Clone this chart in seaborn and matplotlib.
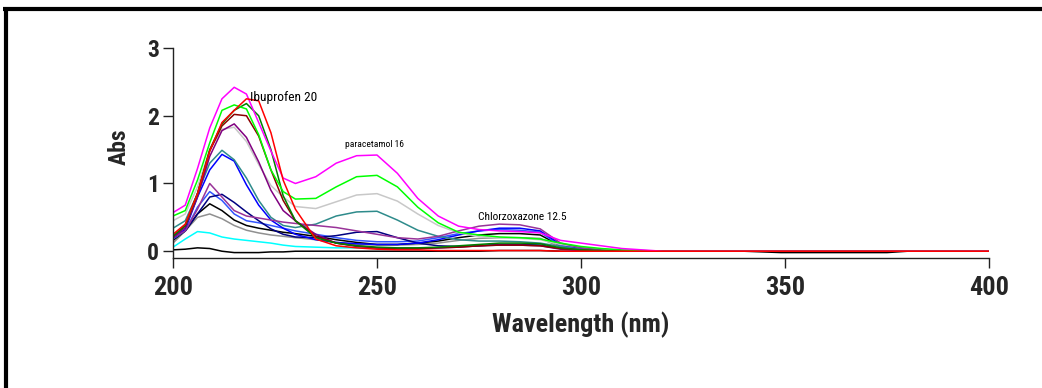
import numpy as np
import pandas as pd
import matplotlib
matplotlib.use("Agg")
import matplotlib.pyplot as plt
import seaborn as sns
from matplotlib import font_manager
from matplotlib.lines import Line2D

# ---------------- data ----------------
wavelength = [200, 203, 206, 209, 212, 215, 218, 221, 224, 227, 230, 235, 240, 245, 250,
              255, 260, 265, 270, 275, 280, 285, 290, 295, 300, 305, 310,
              320, 340, 349, 375, 380, 400]

tail = [0, 0, 0, 0, 0, 0]

bottom_black = [0.02, 0.03, 0.05, 0.04, 0.00, -0.02, -0.02, -0.02, -0.01, -0.01, 0, 0, 0, 0, 0,
                0, 0, 0, 0, 0, 0.01, 0.01, 0.01, 0, 0, 0, 0, 0, 0, -0.02, -0.02, 0, 0]
cyan = [0.06, 0.18, 0.29, 0.27, 0.21, 0.18, 0.16, 0.14, 0.12, 0.09, 0.07, 0.06, 0.05, 0.05, 0.04,
        0.04, 0.04, 0.05, 0.07, 0.09, 0.10, 0.10, 0.09, 0.04, 0.01, 0, 0] + tail
gray = [0.12, 0.30, 0.50, 0.55, 0.48, 0.38, 0.31, 0.27, 0.24, 0.22, 0.20, 0.17, 0.13, 0.10, 0.09,
        0.09, 0.10, 0.12, 0.16, 0.19, 0.20, 0.20, 0.19, 0.06, 0.02, 0, 0] + tail
black = [0.16, 0.30, 0.55, 0.70, 0.60, 0.46, 0.38, 0.34, 0.31, 0.28, 0.26, 0.22, 0.17, 0.13, 0.10,
         0.10, 0.12, 0.15, 0.20, 0.24, 0.26, 0.26, 0.24, 0.08, 0.02, 0, 0] + tail
royal = [0.18, 0.30, 0.65, 0.88, 0.75, 0.55, 0.45, 0.42, 0.38, 0.34, 0.30, 0.25, 0.20, 0.16, 0.14,
         0.14, 0.15, 0.20, 0.26, 0.30, 0.32, 0.31, 0.28, 0.08, 0.02, 0, 0] + tail
navy = [0.20, 0.30, 0.55, 0.80, 0.84, 0.72, 0.58, 0.45, 0.33, 0.25, 0.21, 0.20, 0.23, 0.28, 0.29,
        0.20, 0.12, 0.08, 0.07, 0.08, 0.10, 0.10, 0.09, 0.04, 0.01, 0, 0] + tail
blue = [0.20, 0.32, 0.80, 1.20, 1.43, 1.33, 0.98, 0.68, 0.46, 0.34, 0.25, 0.17, 0.13, 0.11, 0.10,
        0.10, 0.12, 0.17, 0.24, 0.30, 0.34, 0.34, 0.30, 0.10, 0.04, 0.01, 0] + tail
teal = [0.34, 0.45, 0.85, 1.30, 1.49, 1.35, 1.08, 0.75, 0.50, 0.38, 0.35, 0.40, 0.52, 0.58, 0.59,
        0.46, 0.31, 0.22, 0.17, 0.15, 0.15, 0.14, 0.12, 0.07, 0.03, 0.01, 0] + tail
light_gray = [0.45, 0.55, 0.95, 1.50, 1.80, 1.83, 1.62, 1.28, 0.97, 0.80, 0.66, 0.63, 0.73, 0.83, 0.85,
              0.74, 0.55, 0.38, 0.27, 0.22, 0.20, 0.19, 0.17, 0.10, 0.06, 0.03, 0.01] + tail
purple_small = [0.20, 0.30, 0.62, 1.00, 0.80, 0.60, 0.52, 0.49, 0.46, 0.43, 0.41, 0.38, 0.35, 0.30, 0.25,
                0.20, 0.18, 0.22, 0.30, 0.37, 0.40, 0.39, 0.33, 0.12, 0.05, 0.02, 0] + tail
purple_big = [0.20, 0.35, 0.80, 1.40, 1.78, 1.88, 1.68, 1.32, 0.90, 0.60, 0.45, 0.25, 0.12, 0.07, 0.05,
              0.04, 0.04, 0.05, 0.06, 0.08, 0.09, 0.09, 0.08, 0.03, 0.01, 0, 0] + tail
brown = [0.22, 0.38, 0.85, 1.48, 1.85, 2.02, 2.00, 1.70, 1.20, 0.75, 0.45, 0.22, 0.12, 0.08, 0.05,
         0.04, 0.04, 0.05, 0.06, 0.08, 0.09, 0.09, 0.08, 0.04, 0.02, 0, 0] + tail
dark_green = [0.22, 0.38, 0.85, 1.50, 1.88, 2.08, 2.18, 2.00, 1.50, 0.82, 0.45, 0.20, 0.12, 0.08, 0.06,
              0.05, 0.05, 0.06, 0.08, 0.10, 0.12, 0.12, 0.11, 0.05, 0.02, 0.01, 0] + tail
green = [0.52, 0.60, 1.05, 1.60, 2.08, 2.16, 2.10, 1.72, 1.20, 0.88, 0.77, 0.78, 0.95, 1.10, 1.12,
         0.95, 0.65, 0.42, 0.28, 0.24, 0.21, 0.20, 0.18, 0.12, 0.07, 0.04, 0.02] + tail
magenta = [0.57, 0.68, 1.22, 1.82, 2.25, 2.42, 2.32, 1.90, 1.48, 1.08, 1.00, 1.10, 1.30, 1.41, 1.42,
           1.15, 0.78, 0.52, 0.37, 0.32, 0.30, 0.29, 0.27, 0.16, 0.12, 0.08, 0.04] + tail
red = [0.25, 0.40, 0.85, 1.48, 1.90, 2.08, 2.25, 2.22, 1.75, 1.05, 0.62, 0.18, 0.08, 0.05, 0.03,
       0.02, 0.02, 0.01, 0.01, 0.01, 0.01, 0.01, 0.01, 0, 0, 0, 0] + tail

series = {
    "bottom_black": (bottom_black, "#000000"),
    "cyan": (cyan, "#00FFFF"),
    "gray": (gray, "#909090"),
    "black": (black, "#000000"),
    "royal": (royal, "#3355FF"),
    "navy": (navy, "#000080"),
    "blue": (blue, "#0000FF"),
    "teal": (teal, "#2E8B8B"),
    "light_gray": (light_gray, "#C8C8C8"),
    "purple_small": (purple_small, "#993399"),
    "purple_big": (purple_big, "#800080"),
    "brown": (brown, "#8B0000"),
    "dark_green": (dark_green, "#008000"),
    "green": (green, "#00FF00"),
    "magenta": (magenta, "#FF00FF"),
    "red": (red, "#FF0000"),
}

x_ticks = [200, 250, 300, 350, 400]
y_ticks = [0, 1, 2, 3]
annotations = [("Ibuprofen 20", 218.9, 2.27, 9.6),
               ("paracetamol 16", 242.2, 1.58, 6.8),
               ("Chlorzoxazone 12.5", 274.8, 0.51, 8.2)]

# ---------------- style ----------------
sns.set_style("white")
names = {f.name for f in font_manager.fontManager.ttflist}
main_font = "Roboto Condensed" if "Roboto Condensed" in names else "Liberation Sans"
plt.rcParams["font.family"] = [main_font, "DejaVu Sans"]

rows = []
for name, (vals, col) in series.items():
    for w, v in zip(wavelength, vals):
        rows.append((name, w, v))
df = pd.DataFrame(rows, columns=["sample", "wl", "abs"])
palette = {k: c for k, (v, c) in series.items()}

fig = plt.figure(figsize=(10.42, 3.88), dpi=100)
ax = fig.add_axes([173 / 1042, 1 - 258 / 388, 816 / 1042, 210 / 388])

sns.lineplot(data=df, x="wl", y="abs", hue="sample", hue_order=list(series.keys()),
             palette=palette, sort=False, estimator=None, legend=False, linewidth=1.1, ax=ax)

ax.set_xlim(200, 400)
ax.set_ylim(-0.1, 3.0)
ax.set_xticks(x_ticks)
ax.set_yticks(y_ticks)
ax.set_xticklabels([str(t) for t in x_ticks], fontsize=19, fontweight="bold")
ax.set_yticklabels([str(t) for t in y_ticks], fontsize=17, fontweight="bold")
ax.tick_params(axis="both", direction="out", length=7, width=1, color="#222222",
               bottom=True, left=True)
ax.tick_params(axis="x", pad=6)
ax.tick_params(axis="y", pad=3)
for s in ["top", "right"]:
    ax.spines[s].set_visible(False)
for s in ["left", "bottom"]:
    ax.spines[s].set_color("#222222")
    ax.spines[s].set_linewidth(1.0)

ax.set_xlabel("Wavelength (nm)", fontsize=18.8, fontweight="bold")
ax.set_ylabel("Abs", fontsize=17, fontweight="bold")
ax.xaxis.set_label_coords(0.5, -0.255)
ax.yaxis.set_label_coords(-0.052, 0.53)

for txt, xv, yv, fs in annotations:
    ax.text(xv, yv, txt, fontsize=fs, ha="left", va="center", color="black")

# figure frame (thick top and left border)
fig.add_artist(Line2D([3 / 1042, 1], [1 - 8.7 / 388, 1 - 8.7 / 388], transform=fig.transFigure,
                      color="black", linewidth=3.0, solid_capstyle="butt"))
fig.add_artist(Line2D([5.5 / 1042, 5.5 / 1042], [0, 1 - 7 / 388], transform=fig.transFigure,
                      color="black", linewidth=3.0, solid_capstyle="butt"))

fig.savefig("out.png", dpi=100)
